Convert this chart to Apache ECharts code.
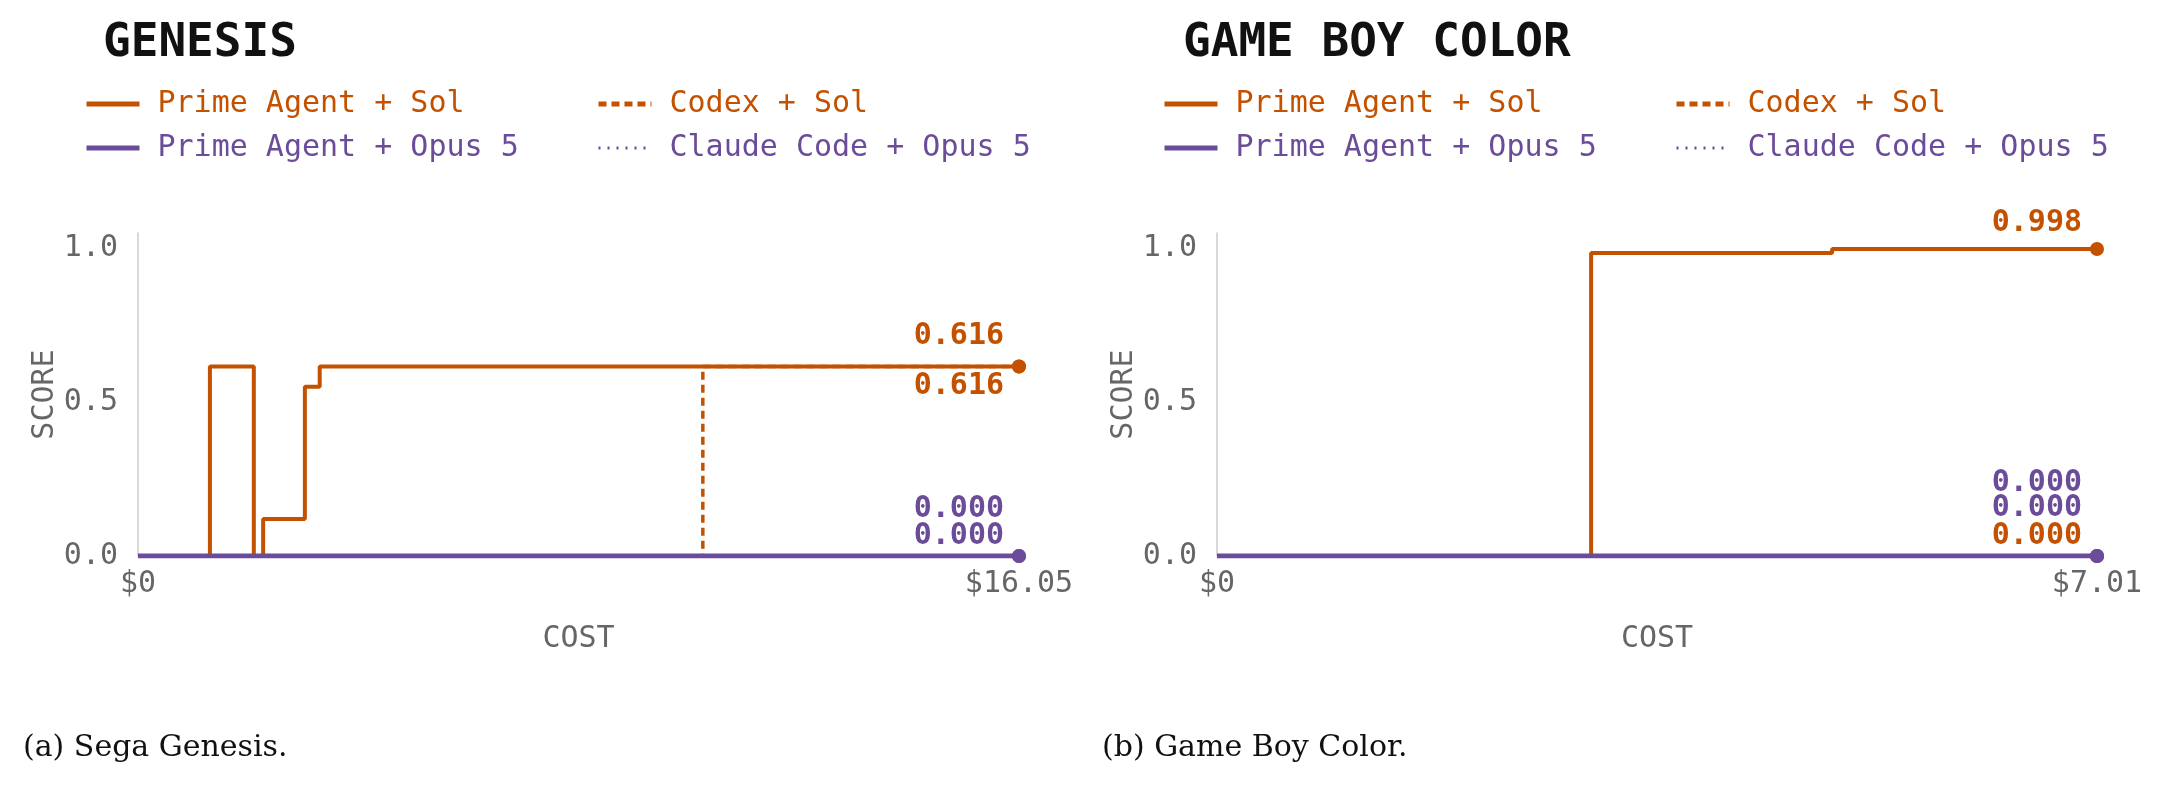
<!DOCTYPE html>
<html>
<head>
<meta charset="utf-8">
<script src="https://cdn.jsdelivr.net/npm/echarts@6/dist/echarts.min.js"></script>
<style>
  html, body { margin: 0; padding: 0; background: #fff; }
  #chart { width: 2169px; height: 789px; }
</style>
</head>
<body>
<div id="chart"></div>
<script>
// 数据 —— 成本 (x) / 得分 (y)，阶梯线
var seriesNames = ['Prime Agent + Sol', 'Codex + Sol', 'Prime Agent + Opus 5', 'Claude Code + Opus 5'];

// Genesis
var genesisMaxCost = 16.05;
var genesisPrimeSol = [[0, 0], [1.31, 0.616], [2.11, 0], [2.28, 0.12], [3.04, 0.55], [3.31, 0.616], [16.05, 0.616]];
var genesisCodexSol = [[0, 0], [10.29, 0.616], [16.05, 0.616]];
var genesisPrimeOpus = [[0, 0], [16.05, 0]];
var genesisClaudeOpus = [[0, 0], [16.05, 0]];

// Game Boy Color
var gbcMaxCost = 7.01;
var gbcPrimeSol = [[0, 0], [2.98, 0.985], [4.90, 0.998], [7.01, 0.998]];
var gbcCodexSol = [[0, 0], [7.01, 0]];
var gbcPrimeOpus = [[0, 0], [7.01, 0]];
var gbcClaudeOpus = [[0, 0], [7.01, 0]];

var yTicks = [0, 0.5, 1.0];

var ORANGE = '#c45100';
var PURPLE = '#6b4c9a';
var MONO = 'DejaVu Sans Mono';

// 每条线的样式
var styles = {
    'Prime Agent + Sol': {color: ORANGE, width: 4, type: 'solid', legendWidth: 5},
    'Codex + Sol': {color: ORANGE, width: 3.5, type: [8, 5], legendWidth: 5},
    'Prime Agent + Opus 5': {color: PURPLE, width: 5, type: 'solid', legendWidth: 5},
    'Claude Code + Opus 5': {color: PURPLE, width: 3, type: [2, 7], legendWidth: 3}
};

function makeSeries(name, data, gridIdx, labelDy) {
    var st = styles[name];
    var last = data.length - 1;
    var items = data.map(function (d, i) {
        if (i !== last) return d;
        return {
            value: d,
            symbol: 'circle',
            symbolSize: 14,
            label: {
                show: true,
                position: 'inside',
                offset: [-15, labelDy],
                align: 'right',
                verticalAlign: 'middle',
                formatter: function (p) { return p.value[1].toFixed(3); },
                color: st.color,
                fontFamily: MONO,
                fontWeight: 'bold',
                fontSize: 30
            }
        };
    });
    return {
        name: name,
        type: 'line',
        step: 'end',
        xAxisIndex: gridIdx,
        yAxisIndex: gridIdx,
        symbol: 'none',
        showSymbol: true,
        data: items,
        itemStyle: {color: st.color},
        lineStyle: {color: st.color, width: st.width, type: st.type},
        emphasis: {disabled: true}
    };
}

function makeLegend(names, left) {
    return {
        orient: 'vertical',
        left: left,
        top: 87,
        padding: 0,
        itemWidth: 53,
        itemHeight: 20,
        itemGap: 10,
        selectedMode: false,
        data: names.map(function (n) {
            var st = styles[n];
            return {
                name: n,
                itemStyle: {opacity: 0},
                lineStyle: {width: st.legendWidth, type: st.type},
                textStyle: {color: st.color}
            };
        }),
        textStyle: {fontFamily: MONO, fontSize: 30, lineHeight: 34, padding: [0, 0, 0, 13]}
    };
}

function makeXAxis(gridIdx, maxCost) {
    return {
        gridIndex: gridIdx,
        type: 'value',
        min: 0,
        max: maxCost,
        interval: maxCost,
        name: 'COST',
        nameLocation: 'middle',
        nameGap: 68,
        nameTextStyle: {fontFamily: MONO, fontSize: 30, color: '#666'},
        axisLine: {show: false},
        axisTick: {show: false},
        splitLine: {show: false},
        axisLabel: {
            margin: 13,
            fontFamily: MONO,
            fontSize: 30,
            color: '#666',
            formatter: function (v) { return v === 0 ? '$0' : '$' + v.toFixed(2); }
        }
    };
}

function makeYAxis(gridIdx) {
    return {
        gridIndex: gridIdx,
        type: 'value',
        min: 0,
        max: 1.05,
        interval: 0.5,
        name: 'SCORE',
        nameLocation: 'middle',
        nameGap: 73,
        nameTextStyle: {fontFamily: MONO, fontSize: 30, color: '#666'},
        axisLine: {show: true, lineStyle: {color: '#cccccc', width: 1.5}},
        axisTick: {show: false},
        splitLine: {show: false},
        axisLabel: {
            margin: 20,
            fontFamily: MONO,
            fontSize: 30,
            color: '#666',
            showMaxLabel: false,
            formatter: function (v) { return yTicks.indexOf(v) >= 0 ? v.toFixed(1) : ''; }
        }
    };
}

var chart = echarts.init(document.getElementById('chart'));

var option = {
    backgroundColor: '#fff',
    animation: false,
    title: [
        {text: 'GENESIS', left: 103, top: 21, padding: 0,
            textStyle: {fontFamily: MONO, fontSize: 46, fontWeight: 'bold', color: '#111', lineHeight: 46}},
        {text: 'GAME BOY COLOR', left: 1183, top: 21, padding: 0,
            textStyle: {fontFamily: MONO, fontSize: 46, fontWeight: 'bold', color: '#111', lineHeight: 46}},
        {text: '(a) Sega Genesis.', left: 23, top: 733, padding: 0,
            textStyle: {fontFamily: 'DejaVu Serif', fontSize: 30, fontWeight: 'normal', color: '#111'}},
        {text: '(b) Game Boy Color.', left: 1102, top: 733, padding: 0,
            textStyle: {fontFamily: 'DejaVu Serif', fontSize: 30, fontWeight: 'normal', color: '#111'}}
    ],
    legend: [
        makeLegend(['Prime Agent + Sol', 'Prime Agent + Opus 5'], 84),
        makeLegend(['Codex + Sol', 'Claude Code + Opus 5'], 596),
        makeLegend(['Prime Agent + Sol', 'Prime Agent + Opus 5'], 1162),
        makeLegend(['Codex + Sol', 'Claude Code + Opus 5'], 1674)
    ],
    grid: [
        {left: 138, top: 233, width: 881, height: 323},
        {left: 1217, top: 233, width: 880, height: 323}
    ],
    xAxis: [makeXAxis(0, genesisMaxCost), makeXAxis(1, gbcMaxCost)],
    yAxis: [makeYAxis(0), makeYAxis(1)],
    series: [
        makeSeries('Codex + Sol', genesisCodexSol, 0, 20),
        makeSeries('Prime Agent + Sol', genesisPrimeSol, 0, -30),
        makeSeries('Claude Code + Opus 5', genesisClaudeOpus, 0, -47),
        makeSeries('Prime Agent + Opus 5', genesisPrimeOpus, 0, -20),

        makeSeries('Codex + Sol', gbcCodexSol, 1, -20),
        makeSeries('Prime Agent + Sol', gbcPrimeSol, 1, -26),
        makeSeries('Claude Code + Opus 5', gbcClaudeOpus, 1, -73),
        makeSeries('Prime Agent + Opus 5', gbcPrimeOpus, 1, -48)
    ]
};

chart.setOption(option, true);
</script>
</body>
</html>
